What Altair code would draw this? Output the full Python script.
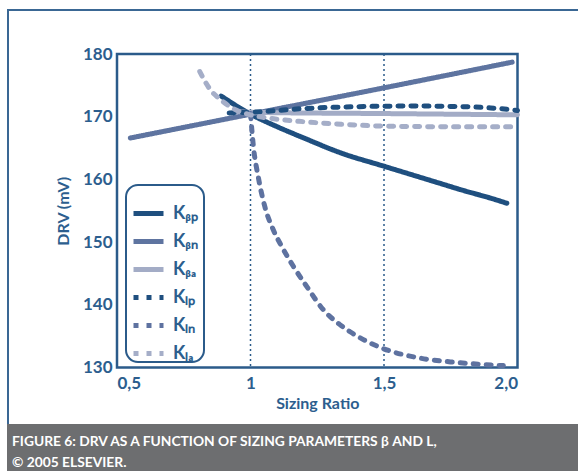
import altair as alt
import pandas as pd

# ---------------- data ----------------
series_names = ["Kβp", "Kβn", "Kβa", "KLp", "KLn", "KLa"]
legend_labels = ["Kᵦₚ", "Kᵦₙ", "Kᵦₐ", "Kₗₚ", "Kₗₙ", "Kₗₐ"]

x_bp = [0.89, 1.0, 1.1, 1.2, 1.34, 1.5, 1.6, 1.7, 1.8, 1.9, 1.96]
y_bp = [173.3, 170.4, 168.4, 166.6, 164.2, 162.1, 160.8, 159.5, 158.2, 157.0, 156.2]

x_bn = [0.55, 1.0, 1.5, 1.98]
y_bn = [166.6, 170.4, 174.6, 178.7]

x_ba = [0.95, 1.0, 1.5, 2.0]
y_ba = [170.8, 170.7, 170.5, 170.3]

x_lp = [0.92, 1.0, 1.2, 1.4, 1.6, 1.8, 1.9, 2.0]
y_lp = [170.6, 170.7, 171.3, 171.6, 171.7, 171.6, 171.4, 171.0]

x_ln = [1.0, 1.011, 1.029, 1.054, 1.086, 1.117, 1.161, 1.211, 1.273, 1.336, 1.373, 1.492, 1.635, 1.773, 1.947]
y_ln = [170.5, 165.2, 160.4, 155.6, 151.9, 149.3, 146.1, 142.9, 139.2, 136.8, 135.7, 133.1, 131.5, 130.8, 130.3]

x_la = [0.81, 0.83, 0.855, 0.88, 0.90, 0.96, 1.0, 1.1, 1.2, 1.34, 1.5, 1.75, 2.0]
y_la = [177.2, 175.6, 174.0, 173.0, 172.3, 170.8, 170.3, 169.6, 169.2, 168.8, 168.5, 168.4, 168.4]

vline_positions = [1.0, 1.5]
x_tick_values = [0.5, 1.0, 1.5, 2.0]
x_tick_labels = ["0,5", "1", "1,5", "2,0"]
y_tick_values = [130, 140, 150, 160, 170, 180]

caption_lines = ["FIGURE 6: DRV AS A FUNCTION OF SIZING PARAMETERS β AND L,",
                 "© 2005 ELSEVIER."]

# ---------------- styling ----------------
series_colors = ["#1f4f7f", "#5e74a0", "#a3acc6", "#1f4f7f", "#5e72a0", "#a5aec8"]
series_dashes = [[1, 0], [1, 0], [1, 0], [5, 8], [5, 8], [5, 8]]
blue = "#2b5b8a"
text_blue = "#2c5e8e"
FONT = "Lato"

rows = []
for name, label, xs, ys in zip(series_names, legend_labels,
                               [x_bp, x_bn, x_ba, x_lp, x_ln, x_la],
                               [y_bp, y_bn, y_ba, y_lp, y_ln, y_la]):
    for i, (xv, yv) in enumerate(zip(xs, ys)):
        rows.append({"series": label, "x": xv, "y": yv, "order": i})
df = pd.DataFrame(rows)

label_expr = " : ".join(
    f"datum.value == {v} ? '{l}'" for v, l in zip(x_tick_values, x_tick_labels)
) + " : ''"

xscale = alt.Scale(domain=[0.5, 2.0], nice=False, zero=False)
yscale = alt.Scale(domain=[130, 180], nice=False, zero=False)


def make_legend():
    return alt.Legend(title=None, orient="none", legendX=14, legendY=142,
                      symbolType="stroke", symbolSize=900, symbolStrokeWidth=5,
                      labelFont=FONT, labelFontSize=18, labelFontWeight="bold",
                      labelColor=text_blue, labelOffset=7, rowPadding=-4,
                      padding=0)


lines = alt.Chart(df).mark_line(strokeWidth=5, strokeCap="round", interpolate="monotone").encode(
    x=alt.X("x:Q", scale=xscale,
            axis=alt.Axis(values=x_tick_values, labelExpr=label_expr, title="Sizing Ratio",
                          labelPadding=8, titlePadding=4)),
    y=alt.Y("y:Q", scale=yscale,
            axis=alt.Axis(values=y_tick_values, title="DRV (mV)", labelPadding=5, titlePadding=11)),
    color=alt.Color("series:N", scale=alt.Scale(domain=legend_labels, range=series_colors),
                    legend=make_legend()),
    strokeDash=alt.StrokeDash("series:N", scale=alt.Scale(domain=legend_labels, range=series_dashes),
                              legend=make_legend()),
    order="order:Q",
    detail="series:N",
)

vlines = alt.Chart(pd.DataFrame({"x": vline_positions})).mark_rule(
    color=blue, strokeWidth=1.5, strokeDash=[2, 3]
).encode(x=alt.X("x:Q", scale=xscale))

one = alt.Data(values=[{}])
# decorations (outside the plot area): frame, caption box, legend box
frame_top = alt.Chart(one).mark_rule(color="#3a6794", strokeWidth=2).encode(
    x=alt.value(-109), x2=alt.value(461), y=alt.value(-44))
frame_left = alt.Chart(one).mark_rule(color="#3a6794", strokeWidth=2).encode(
    x=alt.value(-109), y=alt.value(-45), y2=alt.value(370))
caption_box = alt.Chart(one).mark_rect(color="#6d6e70").encode(
    x=alt.value(-110), x2=alt.value(461), y=alt.value(370), y2=alt.value(417))
caption1 = alt.Chart(one).mark_text(text=caption_lines[0], align="left", baseline="alphabetic",
                                    font=FONT, fontSize=13.8, fontWeight="bold", color="white").encode(
    x=alt.value(-105), y=alt.value(392))
caption2 = alt.Chart(one).mark_text(text=caption_lines[1], align="left", baseline="alphabetic",
                                    font=FONT, fontSize=13.8, fontWeight="bold", color="white").encode(
    x=alt.value(-105), y=alt.value(413))
legend_box = alt.Chart(one).mark_rect(fill="white", stroke=blue, strokeWidth=2, cornerRadius=12).encode(
    x=alt.value(9), x2=alt.value(87), y=alt.value(131), y2=alt.value(308))

chart = alt.layer(
    frame_top, frame_left, caption_box, caption1, caption2, vlines, legend_box, lines
).properties(
    width=400.5, height=313.5,
    autosize=alt.AutoSizeParams(type="none"),
    padding={"left": 117, "top": 54, "right": 60.5, "bottom": 103.5},
    background="white",
).configure_view(
    stroke=blue, strokeWidth=2.5
).configure_axis(
    domain=False, ticks=False, grid=False,
    labelFont=FONT, labelFontSize=17, labelFontWeight="bold", labelColor=text_blue,
    titleFont=FONT, titleFontSize=16, titleFontWeight="bold", titleColor=text_blue,
)

chart.save("out.html", embed_options={"renderer": "svg", "actions": False})
